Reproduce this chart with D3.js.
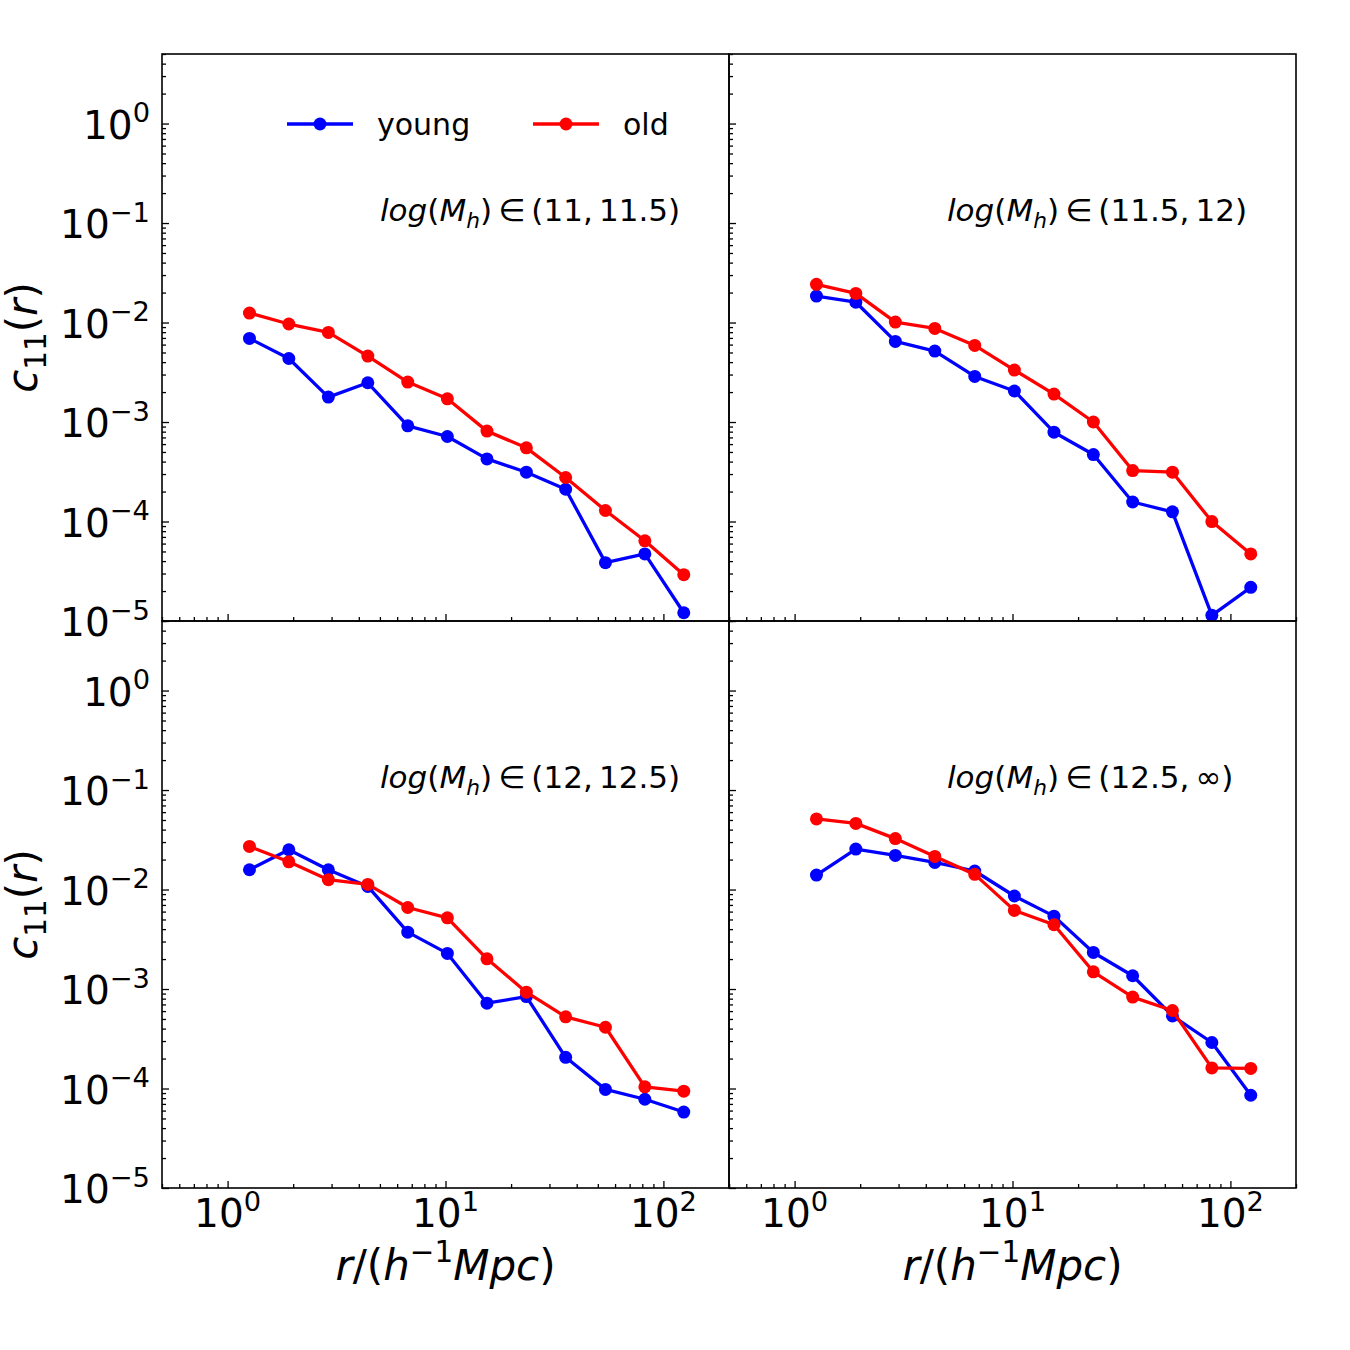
<!DOCTYPE html>
<html><head><meta charset="utf-8">
<script src="https://cdn.jsdelivr.net/npm/d3@7"></script>
<style>
body{margin:0;background:#fff}
svg{display:block}
text{font-family:"DejaVu Sans";fill:#000}
</style>
</head><body>
<svg id="chart" width="1350" height="1350"></svg>
<script>
// ---------------- data ----------------
const rValues = [1.26, 1.91, 2.90, 4.40, 6.71, 10.2, 15.5, 23.5, 35.6, 54.2, 82.2, 124];
const panelRanges = [["11", "11.5"], ["11.5", "12"], ["12", "12.5"], ["12.5", "∞"]];
const young_11_115 = [0.00692, 0.00435, 0.00178, 0.00248, 9.16e-4, 7.15e-4, 4.26e-4, 3.13e-4, 2.11e-4, 3.86e-5, 4.72e-5, 1.21e-5];
const old_11_115   = [0.01245, 0.00966, 0.00796, 0.0046, 0.00252, 0.00171, 8.1e-4, 5.5e-4, 2.77e-4, 1.29e-4, 6.4e-5, 2.92e-5];
const young_115_12 = [0.01846, 0.0160, 0.00646, 0.00517, 0.00287, 0.00205, 7.9e-4, 4.71e-4, 1.57e-4, 1.25e-4, 1.14e-5, 2.18e-5];
const old_115_12   = [0.0242, 0.0196, 0.0101, 0.00873, 0.00589, 0.00333, 0.00191, 0.00100, 3.25e-4, 3.13e-4, 9.98e-5, 4.72e-5];
const young_12_125 = [0.0158, 0.0251, 0.0158, 0.01074, 0.00373, 0.00228, 7.2e-4, 8.4e-4, 2.06e-4, 9.8e-5, 7.8e-5, 5.8e-5];
const old_12_125   = [0.0271, 0.0190, 0.01255, 0.01125, 0.0066, 0.0052, 0.00201, 9.3e-4, 5.25e-4, 4.13e-4, 1.04e-4, 9.4e-5];
const young_125_inf = [0.01397, 0.0255, 0.0220, 0.01874, 0.01535, 0.00861, 0.0054, 0.00233, 0.00136, 5.37e-4, 2.9e-4, 8.55e-5];
const old_125_inf   = [0.0512, 0.0462, 0.0325, 0.0215, 0.0142, 0.00617, 0.00443, 0.00149, 8.3e-4, 6.08e-4, 1.61e-4, 1.59e-4];
const youngSeries = [young_11_115, young_115_12, young_12_125, young_125_inf];
const oldSeries = [old_11_115, old_115_12, old_12_125, old_125_inf];
const seriesNames = ["young", "old"];
const seriesColors = ["#0000ff", "#ff0000"];
const yMajorTicks = [1e-5, 1e-4, 1e-3, 1e-2, 1e-1, 1e0];
const yTickExponents = ["−5", "−4", "−3", "−2", "−1", "0"];
const xMajorTicks = [1, 10, 100];
const xTickExponents = ["0", "1", "2"];
const xDomain = [0.5, 200];
const yDomain = [1e-5, 5];

// ---------------- layout ----------------
const svg = d3.select("#chart");
const PW = 567, PH = 567;
const X0 = [162, 729], Y0 = [54, 621];
const TICK_FS = 39, LABEL_FS = 42, TEXT_FS = 30;

function minorTicks(lo, hi) {
  const out = [];
  for (let e = -6; e <= 3; e++) for (let m = 2; m <= 9; m++) {
    const v = m * Math.pow(10, e);
    if (v >= lo * 0.9999 && v <= hi * 1.0001) out.push(v);
  }
  return out;
}

// append mathtext-like parts to a text element
function mathParts(text, parts, fs) {
  let cur = 0;
  parts.forEach(p => {
    const size = p.sub || p.sup ? fs * 0.7 : fs;
    const target = p.sub ? fs * 0.22 : (p.sup ? -fs * 0.42 : 0);
    const ts = text.append("tspan").text(p.t)
      .attr("font-size", size)
      .attr("font-style", p.it ? "italic" : "normal");
    if (target !== cur) { ts.attr("dy", target - cur); cur = target; }
    if (p.dx) ts.attr("dx", p.dx);
  });
}

for (let i = 0; i < 4; i++) {
  const col = i % 2, row = Math.floor(i / 2);
  const x0 = X0[col], y0 = Y0[row];
  const x = d3.scaleLog().domain(xDomain).range([x0, x0 + PW]);
  const y = d3.scaleLog().domain(yDomain).range([y0 + PH, y0]);
  const g = svg.append("g");

  const clipId = "clip" + i;
  svg.append("clipPath").attr("id", clipId).append("rect")
    .attr("x", x0).attr("y", y0).attr("width", PW).attr("height", PH);

  const axStyle = sel => { sel.select(".domain").remove(); sel.selectAll("line").attr("stroke", "#000").attr("stroke-width", 1.3); };
  g.append("g").attr("transform", `translate(${x0},0)`)
    .call(d3.axisLeft(y).tickValues(yMajorTicks).tickSize(-7).tickFormat(() => "")).call(axStyle);
  g.append("g").attr("transform", `translate(${x0},0)`)
    .call(d3.axisLeft(y).tickValues(minorTicks(yDomain[0], yDomain[1])).tickSize(-4).tickFormat(() => "")).call(axStyle);
  g.append("g").attr("transform", `translate(0,${y0 + PH})`)
    .call(d3.axisBottom(x).tickValues(xMajorTicks).tickSize(-7).tickFormat(() => "")).call(axStyle);
  g.append("g").attr("transform", `translate(0,${y0 + PH})`)
    .call(d3.axisBottom(x).tickValues(minorTicks(xDomain[0], xDomain[1])).tickSize(-4).tickFormat(() => "")).call(axStyle);

  if (col === 0) {
    g.selectAll("text.ytl").data(yMajorTicks).join("text").attr("class", "ytl")
      .attr("x", x0 - 12).attr("y", d => y(d) + 15).attr("text-anchor", "end")
      .each(function (d, k) {
        mathParts(d3.select(this), [{ t: "10" }, { t: yTickExponents[k], sup: true }], TICK_FS);
      });
    const yl = g.append("text")
      .attr("transform", `translate(37,${y0 + PH / 2}) rotate(-90)`)
      .attr("text-anchor", "middle");
    mathParts(yl, [{ t: "c", it: true }, { t: "11", sub: true }, { t: "(" }, { t: "r", it: true }, { t: ")" }], LABEL_FS);
  }
  if (row === 1) {
    g.selectAll("text.xtl").data(xMajorTicks).join("text").attr("class", "xtl")
      .attr("x", d => x(d)).attr("y", y0 + PH + 39).attr("text-anchor", "middle")
      .each(function (d, k) {
        mathParts(d3.select(this), [{ t: "10" }, { t: xTickExponents[k], sup: true }], TICK_FS);
      });
    const xl = g.append("text")
      .attr("x", x0 + PW / 2).attr("y", y0 + PH + 92).attr("text-anchor", "middle");
    mathParts(xl, [{ t: "r", it: true }, { t: "/" }, { t: "(" }, { t: "h", it: true }, { t: "−1", sup: true },
      { t: "Mpc", it: true }, { t: ")" }], LABEL_FS);
  }

  const dataG = g.append("g").attr("clip-path", `url(#${clipId})`);
  [youngSeries[i], oldSeries[i]].forEach((vals, s) => {
    const line = d3.line().x((d, k) => x(rValues[k])).y(d => y(d));
    dataG.append("path").datum(vals).attr("d", line)
      .attr("fill", "none").attr("stroke", seriesColors[s]).attr("stroke-width", 3.3)
      .attr("stroke-linejoin", "round");
    dataG.selectAll(null).data(vals).join("circle")
      .attr("cx", (d, k) => x(rValues[k])).attr("cy", d => y(d)).attr("r", 6.5)
      .attr("fill", seriesColors[s]);
  });

  const an = g.append("text").attr("x", x0 + 218).attr("y", y0 + 167);
  const rg = panelRanges[i];
  mathParts(an, [{ t: "log", it: true }, { t: "(" }, { t: "M", it: true }, { t: "h", it: true, sub: true },
    { t: ")" }, { t: "\u2009∈\u2009(" + rg[0] + ",\u2009" + rg[1] + ")" }], 31);

  g.append("rect").attr("x", x0).attr("y", y0).attr("width", PW).attr("height", PH)
    .attr("fill", "none").attr("stroke", "#000").attr("stroke-width", 1.6);

  if (i === 0) {
    const legX = [287, 533];
    seriesNames.forEach((nm, s) => {
      const lx = legX[s], ly = y0 + 70;
      g.append("line").attr("x1", lx).attr("x2", lx + 66).attr("y1", ly).attr("y2", ly)
        .attr("stroke", seriesColors[s]).attr("stroke-width", 3.3);
      g.append("circle").attr("cx", lx + 33).attr("cy", ly).attr("r", 6.5).attr("fill", seriesColors[s]);
      g.append("text").attr("x", lx + 90).attr("y", ly + 11).attr("font-size", TEXT_FS).text(nm);
    });
  }
}
</script>
</body></html>
